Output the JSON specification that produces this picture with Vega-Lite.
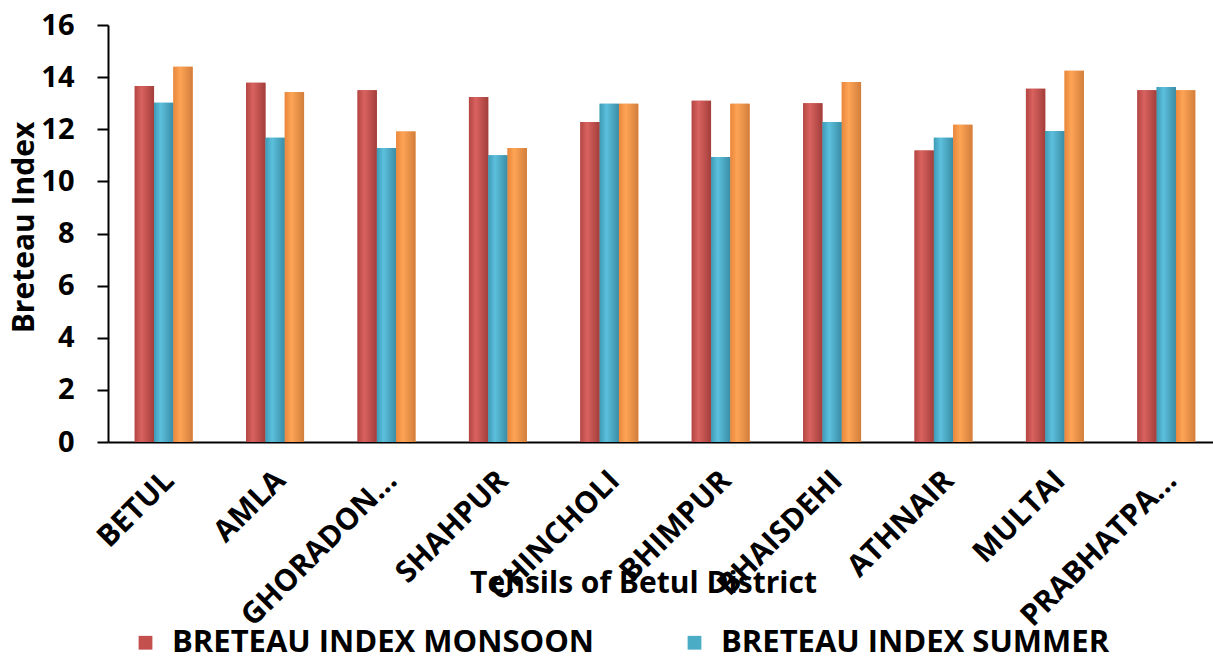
{
  "$schema": "https://vega.github.io/schema/vega-lite/v6.json",
  "autosize": {"type": "none"},
  "width": 1105,
  "height": 417,
  "padding": {"left": 108, "top": 25, "right": 0, "bottom": 219},
  "background": "white",
  "config": {
    "view": {"stroke": null},
    "font": "Open Sans",
    "axis": {"labelFont": "Open Sans", "titleFont": "Open Sans", "labelColor": "black", "titleColor": "black", "labelFontWeight": "bold", "titleFontWeight": "bold", "grid": false, "domainColor": "black", "domainWidth": 2, "tickColor": "black", "tickWidth": 2},
    "legend": {"labelFont": "Open Sans", "labelFontWeight": "bold", "labelColor": "black"}
  },
  "data": {
    "values": [
      {"tehsil": "BETUL", "series": "BRETEAU INDEX MONSOON", "value": 13.66},
      {"tehsil": "BETUL", "series": "BRETEAU INDEX SUMMER", "value": 13.02},
      {"tehsil": "BETUL", "series": "BRETEAU INDEX WINTER", "value": 14.4},
      {"tehsil": "AMLA", "series": "BRETEAU INDEX MONSOON", "value": 13.78},
      {"tehsil": "AMLA", "series": "BRETEAU INDEX SUMMER", "value": 11.67},
      {"tehsil": "AMLA", "series": "BRETEAU INDEX WINTER", "value": 13.43},
      {"tehsil": "GHORADONGRI", "series": "BRETEAU INDEX MONSOON", "value": 13.5},
      {"tehsil": "GHORADONGRI", "series": "BRETEAU INDEX SUMMER", "value": 11.28},
      {"tehsil": "GHORADONGRI", "series": "BRETEAU INDEX WINTER", "value": 11.91},
      {"tehsil": "SHAHPUR", "series": "BRETEAU INDEX MONSOON", "value": 13.24},
      {"tehsil": "SHAHPUR", "series": "BRETEAU INDEX SUMMER", "value": 11.0},
      {"tehsil": "SHAHPUR", "series": "BRETEAU INDEX WINTER", "value": 11.28},
      {"tehsil": "CHINCHOLI", "series": "BRETEAU INDEX MONSOON", "value": 12.28},
      {"tehsil": "CHINCHOLI", "series": "BRETEAU INDEX SUMMER", "value": 12.98},
      {"tehsil": "CHINCHOLI", "series": "BRETEAU INDEX WINTER", "value": 12.98},
      {"tehsil": "BHIMPUR", "series": "BRETEAU INDEX MONSOON", "value": 13.09},
      {"tehsil": "BHIMPUR", "series": "BRETEAU INDEX SUMMER", "value": 10.94},
      {"tehsil": "BHIMPUR", "series": "BRETEAU INDEX WINTER", "value": 12.98},
      {"tehsil": "BHAISDEHI", "series": "BRETEAU INDEX MONSOON", "value": 13.0},
      {"tehsil": "BHAISDEHI", "series": "BRETEAU INDEX SUMMER", "value": 12.28},
      {"tehsil": "BHAISDEHI", "series": "BRETEAU INDEX WINTER", "value": 13.81},
      {"tehsil": "ATHNAIR", "series": "BRETEAU INDEX MONSOON", "value": 11.18},
      {"tehsil": "ATHNAIR", "series": "BRETEAU INDEX SUMMER", "value": 11.67},
      {"tehsil": "ATHNAIR", "series": "BRETEAU INDEX WINTER", "value": 12.17},
      {"tehsil": "MULTAI", "series": "BRETEAU INDEX MONSOON", "value": 13.55},
      {"tehsil": "MULTAI", "series": "BRETEAU INDEX SUMMER", "value": 11.93},
      {"tehsil": "MULTAI", "series": "BRETEAU INDEX WINTER", "value": 14.24},
      {"tehsil": "PRABHATPATTAN", "series": "BRETEAU INDEX MONSOON", "value": 13.5},
      {"tehsil": "PRABHATPATTAN", "series": "BRETEAU INDEX SUMMER", "value": 13.62},
      {"tehsil": "PRABHATPATTAN", "series": "BRETEAU INDEX WINTER", "value": 13.5}
    ]
  },
  "encoding": {
    "x": {
      "field": "tehsil", "type": "nominal", "sort": null,
      "scale": {"range": [0, 1114], "paddingInner": 0.48, "paddingOuter": 0.24},
      "axis": {
        "title": "Tehsils of Betul District", "titleFontSize": 30, "titleY": 141, "titleX": 535, "titleBaseline": "middle",
        "labelAngle": -45, "labelFontSize": 30, "ticks": false, "labelPadding": 23, "labelOffset": -5, "labelLimit": 400,
        "labelExpr": "datum.label == 'GHORADONGRI' ? 'GHORADON...' : datum.label == 'PRABHATPATTAN' ? 'PRABHATPA...' : datum.label"
      }
    },
    "xOffset": {"field": "series", "type": "nominal", "scale": {"domain": ["BRETEAU INDEX MONSOON", "BRETEAU INDEX SUMMER", "BRETEAU INDEX WINTER"], "paddingInner": 0, "paddingOuter": 0}},
    "y": {
      "field": "value", "type": "quantitative",
      "scale": {"domain": [0, 16], "nice": false},
      "axis": {"title": "Breteau Index", "titleFontSize": 30, "titleX": -84, "titleY": 202, "titleBaseline": "middle", "titleAngle": -90,
        "values": [0, 2, 4, 6, 8, 10, 12, 14, 16], "labelFontSize": 29, "tickSize": 11, "labelPadding": 23}
    }
  },
  "layer": [
    {
      "mark": {"type": "bar"},
      "encoding": {
        "color": {"field": "series", "type": "nominal",
          "scale": {"domain": ["BRETEAU INDEX MONSOON", "BRETEAU INDEX SUMMER", "BRETEAU INDEX WINTER"], "range": ["#c4504d", "#4bacc6", "#f79646"]},
          "legend": {"values": ["BRETEAU INDEX MONSOON", "BRETEAU INDEX SUMMER"], "title": null, "orient": "none", "legendX": 22, "legendY": 602, "direction": "horizontal",
            "symbolType": "square", "symbolSize": 190, "symbolStrokeWidth": 0, "labelFontSize": 31, "labelOffset": 11, "columnPadding": 84, "labelLimit": 600}}
      }
    },
    {
      "transform": [{"filter": "datum.series == 'BRETEAU INDEX MONSOON'"}],
      "mark": {"type": "bar", "color": {"gradient": "linear", "x1": 0, "y1": 0, "x2": 1, "y2": 0, "stops": [{"offset": 0, "color": "#b34643"}, {"offset": 0.35, "color": "#d9625f"}, {"offset": 1, "color": "#a23e3b"}]}}
    },
    {
      "transform": [{"filter": "datum.series == 'BRETEAU INDEX SUMMER'"}],
      "mark": {"type": "bar", "color": {"gradient": "linear", "x1": 0, "y1": 0, "x2": 1, "y2": 0, "stops": [{"offset": 0, "color": "#3f9bb5"}, {"offset": 0.35, "color": "#5cc0dc"}, {"offset": 1, "color": "#3a8ca5"}]}}
    },
    {
      "transform": [{"filter": "datum.series == 'BRETEAU INDEX WINTER'"}],
      "mark": {"type": "bar", "color": {"gradient": "linear", "x1": 0, "y1": 0, "x2": 1, "y2": 0, "stops": [{"offset": 0, "color": "#e9873c"}, {"offset": 0.35, "color": "#fda455"}, {"offset": 1, "color": "#d27e3c"}]}}
    }
  ]
}
